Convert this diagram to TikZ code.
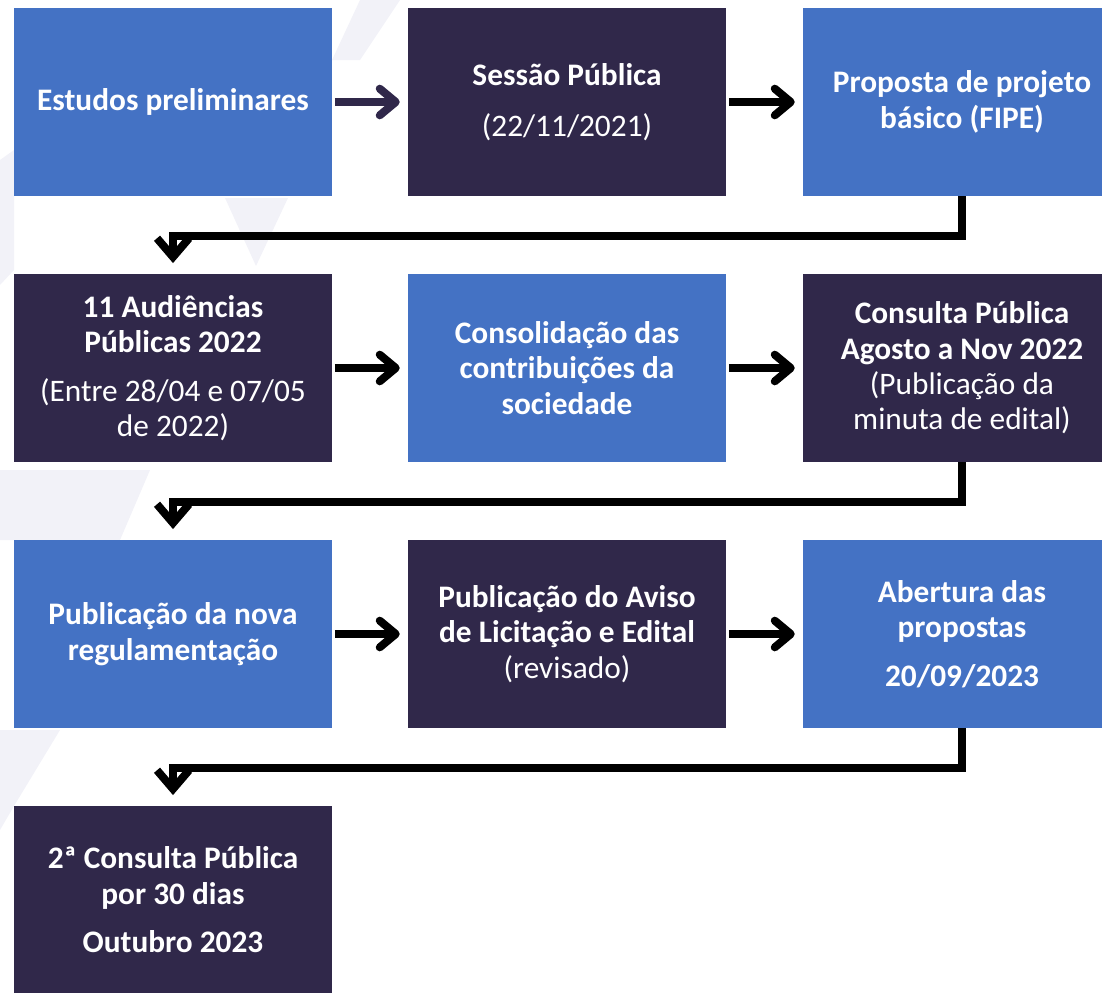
\documentclass[tikz,border=0pt]{standalone}
\usepackage{fontspec}
\setmainfont{Carlito}
\usetikzlibrary{arrows.meta}
\definecolor{boxblue}{HTML}{4472C4}
\definecolor{boxdark}{HTML}{30284A}
\definecolor{wmark}{HTML}{F2F2F8}

\begin{document}
\begin{tikzpicture}[x=0.75pt,y=-0.75pt]
		\tikzset{stepbox/.style = {shape=rectangle,inner sep=0pt,minimum width=238.5pt,minimum height=141pt,align=center,text=white,font=\fontsize{23.5}{26.5}\selectfont}}
		\tikzset{bluebox/.style = {stepbox,fill=boxblue}}
		\tikzset{darkbox/.style = {stepbox,fill=boxdark}}
		\tikzset{flow/.style = {-{Straight Barb[length=12pt,width=20pt,round]},line width=6pt,shorten <=2pt,shorten >=6pt}}
		\tikzset{elbow/.style = {-{Straight Barb[length=14pt,width=24pt]},line width=6pt,shorten >=8pt}}
		\useasboundingbox (0,0) rectangle (1102,992);
		% faint background marks
		\fill[wmark] (225,198) -- (288,198) -- (256,266) -- cycle;
		\fill[wmark] (332,60) -- (360,0) -- (400,0) -- (360,60) -- cycle;
		\fill[wmark] (0,160) -- (14,150) -- (14,270) -- (0,285) -- cycle;
		\fill[wmark] (0,470) -- (150,470) -- (120,540) -- (0,540) -- cycle;
		\fill[wmark] (0,730) -- (60,730) -- (14,806) -- (0,830) -- cycle;
		% steps
		\node[bluebox] (est) at (173,102) {\textbf{Estudos preliminares}};
		\node[darkbox] (ses) at (567,102) {\textbf{Sessão Pública}\\[12pt](22/11/2021)};
		\node[bluebox] (prop) at (962,102) {\textbf{Proposta de projeto}\\\textbf{básico (FIPE)}};
		\node[darkbox] (aud) at (173,368) {\textbf{11 Audiências}\\\textbf{Públicas 2022}\\[10pt](Entre 28/04 e 07/05\\de 2022)};
		\node[bluebox] (cons) at (567,368) {\textbf{Consolidação das}\\\textbf{contribuições da}\\\textbf{sociedade}};
		\node[darkbox] (cpub) at (962,368) {\textbf{Consulta Pública}\\\textbf{Agosto a Nov 2022}\\(Publicação da\\minuta de edital)};
		\node[bluebox] (reg) at (173,634) {\textbf{Publicação da nova}\\\textbf{regulamentação}};
		\node[darkbox] (aviso) at (567,634) {\textbf{Publicação do Aviso}\\\textbf{de Licitação e Edital}\\(revisado)};
		\node[bluebox] (abert) at (962,634) {\textbf{Abertura das}\\\textbf{propostas}\\[10pt]\textbf{20/09/2023}};
		\node[darkbox] (cpub2) at (173,900) {\textbf{2ª Consulta Pública}\\\textbf{por 30 dias}\\[10pt]\textbf{Outubro 2023}};
		\coordinate (turnA) at (173,236);
		\coordinate (turnB) at (173,502);
		\coordinate (turnC) at (173,768);
		% arrows
		\draw[flow,boxdark] (est.east) -- (ses.west);
		\draw[flow] (ses.east) -- (prop.west);
		\draw[flow] (aud.east) -- (cons.west);
		\draw[flow] (cons.east) -- (cpub.west);
		\draw[flow] (reg.east) -- (aviso.west);
		\draw[flow] (aviso.east) -- (abert.west);
		\draw[elbow] (prop.south) |- (turnA) -- (aud.north);
		\draw[elbow] (cpub.south) |- (turnB) -- (reg.north);
		\draw[elbow] (abert.south) |- (turnC) -- (cpub2.north);
	\end{tikzpicture}
\end{document}
